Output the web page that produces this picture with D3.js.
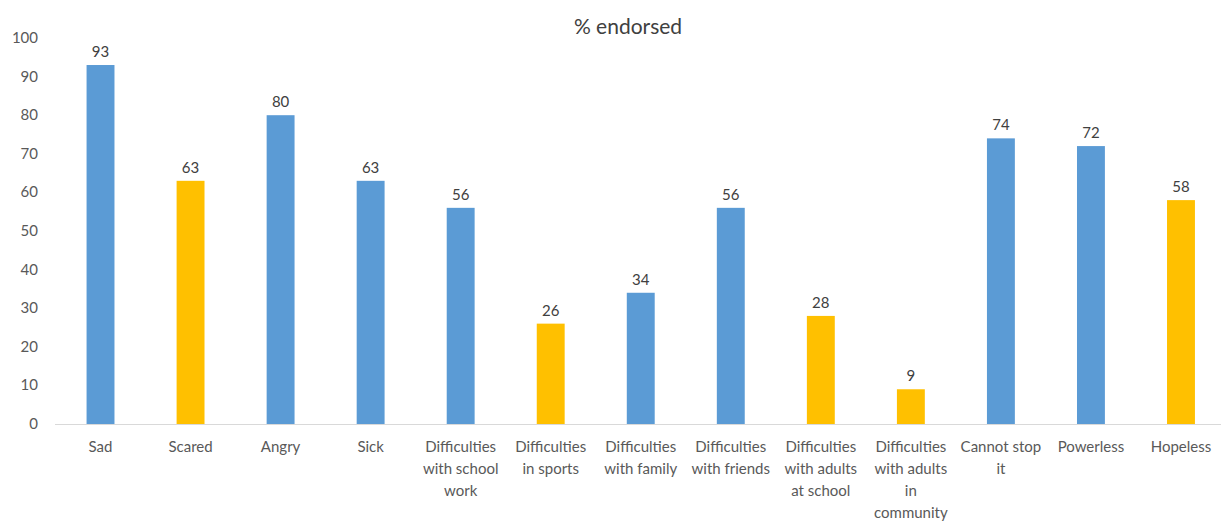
<!DOCTYPE html>
<html><head><meta charset="utf-8">
<script src="https://cdn.jsdelivr.net/npm/d3@7"></script>
<style>body{margin:0;background:#fff}svg{display:block}text{font-family:Lato,"Open Sans",sans-serif}</style>
</head><body><svg id="c" width="1221" height="521"></svg>
<script>
const categories = [
  ["Sad"], ["Scared"], ["Angry"], ["Sick"],
  ["Difficulties","with school","work"],
  ["Difficulties","in sports"],
  ["Difficulties","with family"],
  ["Difficulties","with friends"],
  ["Difficulties","with adults","at school"],
  ["Difficulties","with adults","in","community"],
  ["Cannot stop","it"], ["Powerless"], ["Hopeless"]
];
const values = [93, 63, 80, 63, 56, 26, 34, 56, 28, 9, 74, 72, 58];
const highlight = [false, true, false, false, false, true, false, false, true, true, false, false, true];
const yTicks = [0,10,20,30,40,50,60,70,80,90,100];
const title = "% endorsed";

const svg = d3.select("#c");
const x = d3.scaleBand().domain(d3.range(values.length)).range([55.5, 1226]).paddingInner(0.69).paddingOuter(0.345);
const y = d3.scaleLinear().domain([0,100]).range([424, 38]);

svg.append("text").attr("x", 628).attr("y", 34).attr("text-anchor","middle")
  .attr("font-size", 21).attr("fill", "#404040").text(title);

svg.append("g").selectAll("text").data(yTicks).join("text")
  .attr("x", 38).attr("y", d => y(d) + 5).attr("text-anchor","end")
  .attr("font-size", 15).attr("fill", "#595959").text(d => d);

svg.append("line").attr("x1", 55).attr("x2", 1221).attr("y1", 424.5).attr("y2", 424.5)
  .attr("stroke", "#d9d9d9").attr("stroke-width", 1);

svg.append("g").selectAll("rect").data(values).join("rect")
  .attr("x", (d,i) => x(i)).attr("width", x.bandwidth())
  .attr("y", d => y(d)).attr("height", d => y(0) - y(d))
  .attr("fill", (d,i) => highlight[i] ? "#FFC000" : "#5B9BD5");

svg.append("g").selectAll("text").data(values).join("text")
  .attr("x", (d,i) => x(i) + x.bandwidth()/2).attr("y", d => y(d) - 8)
  .attr("text-anchor","middle").attr("font-size", 15).attr("fill", "#404040").text(d => d);

const lab = svg.append("g").selectAll("text").data(categories).join("text")
  .attr("text-anchor","middle").attr("font-size", 15).attr("fill", "#595959");
lab.each(function(lines, i){
  const t = d3.select(this);
  lines.forEach((s, j) => t.append("tspan").attr("x", x(i) + x.bandwidth()/2).attr("y", 452 + j*22).text(s));
});
</script></body></html>
